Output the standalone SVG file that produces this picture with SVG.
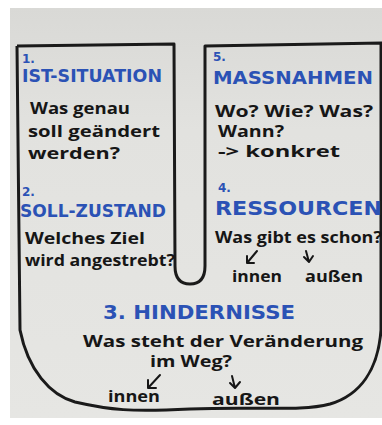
<svg xmlns="http://www.w3.org/2000/svg" width="382" height="425" viewBox="0 0 382 425">
<defs>
<linearGradient id="paper" x1="0" y1="0" x2="0" y2="1">
<stop offset="0" stop-color="#d9d9d6"/>
<stop offset="0.3" stop-color="#e2e2df"/>
<stop offset="1" stop-color="#e6e6e3"/>
</linearGradient>
</defs>
<style>
.blue{font-family:"DejaVu Sans",sans-serif;font-weight:bold;fill:#2b52b5;}
.num{font-family:"DejaVu Sans",sans-serif;font-weight:bold;fill:#2b52b5;font-size:12px;}
.ink{font-family:"Open Sans","DejaVu Sans",sans-serif;font-weight:700;fill:#161616;font-size:16px;}
.arr{fill:none;stroke:#161616;stroke-width:2;stroke-linecap:round;stroke-linejoin:round;}
</style>
<rect x="0" y="0" width="382" height="425" fill="#ffffff"/>
<rect x="10" y="8" width="372" height="410" fill="url(#paper)"/>
<g id="u-shape">
<path d="M17,46 L174,44 L175,266 C175,278 180,284 190,284 C200,284 205,278 205,266 L205,46 L382,43 M381,43 L381,330 C378,370 360,395 330,404 C300,412 260,406 190,409 C130,412 110,410 75,402 C50,395 28,370 20,330 L17,46" fill="none" stroke="#1a1a1a" stroke-width="3" stroke-linejoin="round"/>
</g>
<g id="ist-situation">
<text class="num" x="22" y="63">1.</text>
<text class="blue" x="22" y="82" font-size="17" textLength="140" lengthAdjust="spacingAndGlyphs">IST-SITUATION</text>
<text class="ink" x="30" y="114" textLength="100" lengthAdjust="spacingAndGlyphs">Was genau</text>
<text class="ink" x="28" y="137" textLength="132" lengthAdjust="spacingAndGlyphs">soll geändert</text>
<text class="ink" x="28" y="159" textLength="92" lengthAdjust="spacingAndGlyphs">werden?</text>
</g>
<g id="soll-zustand">
<text class="num" x="22" y="196">2.</text>
<text class="blue" x="20" y="217" font-size="17" textLength="146" lengthAdjust="spacingAndGlyphs">SOLL-ZUSTAND</text>
<text class="ink" x="25" y="244" textLength="120" lengthAdjust="spacingAndGlyphs">Welches Ziel</text>
<text class="ink" x="25" y="266" textLength="150" lengthAdjust="spacingAndGlyphs">wird angestrebt?</text>
</g>
<g id="massnahmen">
<text class="num" x="213" y="61">5.</text>
<text class="blue" x="213" y="84" font-size="18" textLength="160" lengthAdjust="spacingAndGlyphs">MASSNAHMEN</text>
<text class="ink" x="215" y="117" textLength="158" lengthAdjust="spacingAndGlyphs">Wo? Wie? Was?</text>
<text class="ink" x="218" y="137" font-size="15" textLength="66" lengthAdjust="spacingAndGlyphs">Wann?</text>
<text class="ink" x="218" y="157" font-size="15" textLength="122" lengthAdjust="spacingAndGlyphs">-&gt; konkret</text>
</g>
<g id="ressourcen">
<text class="num" x="218" y="192">4.</text>
<text class="blue" x="215" y="215" font-size="20" textLength="167" lengthAdjust="spacingAndGlyphs">RESSOURCEN</text>
<text class="ink" x="215" y="243" textLength="167" lengthAdjust="spacingAndGlyphs">Was gibt es schon?</text>
<path class="arr" d="M257,251 L247,263 M247,256 L247,263 L254,263"/>
<path class="arr" d="M306,251 L309,262 M304,257 L309,262 L313,256"/>
<text class="ink" x="232" y="282" font-size="14" textLength="50" lengthAdjust="spacingAndGlyphs">innen</text>
<text class="ink" x="305" y="282" font-size="14" textLength="58" lengthAdjust="spacingAndGlyphs">außen</text>
</g>
<g id="hindernisse">
<text class="blue" x="103" y="319" font-size="20" textLength="192" lengthAdjust="spacingAndGlyphs">3. HINDERNISSE</text>
<text class="ink" x="83" y="347" font-size="15" textLength="280" lengthAdjust="spacingAndGlyphs">Was steht der Veränderung</text>
<text class="ink" x="150" y="367" font-size="15" textLength="82" lengthAdjust="spacingAndGlyphs">im Weg?</text>
<path class="arr" d="M160,375 L148,388 M148,380 L148,388 L156,388"/>
<path class="arr" d="M232,376 L235,388 M230,383 L235,388 L240,382"/>
<text class="ink" x="108" y="402" font-size="14" textLength="52" lengthAdjust="spacingAndGlyphs">innen</text>
<text class="ink" x="212" y="405" font-size="14" textLength="68" lengthAdjust="spacingAndGlyphs">außen</text>
</g>
</svg>
